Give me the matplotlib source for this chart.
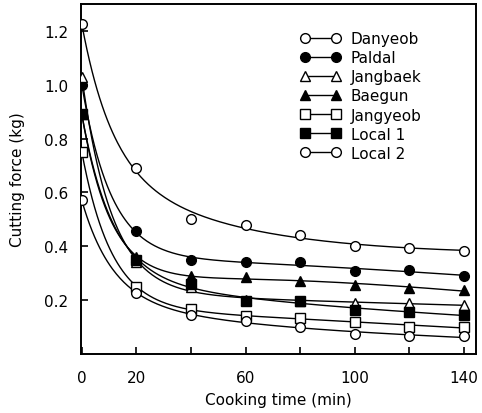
import numpy as np
import matplotlib
matplotlib.use("Agg")
import matplotlib.pyplot as plt

# cooking time (min) and cutting force (kg)
time_min = [0, 20, 40, 60, 80, 100, 120, 140]
danyeob = [1.225, 0.69, 0.50, 0.48, 0.44, 0.40, 0.395, 0.383]
paldal = [1.00, 0.455, 0.35, 0.34, 0.34, 0.307, 0.31, 0.29]
jangbaek = [1.03, 0.34, 0.25, 0.20, 0.195, 0.19, 0.19, 0.18]
baegun = [0.89, 0.36, 0.29, 0.285, 0.27, 0.256, 0.245, 0.238]
jangyeob = [0.75, 0.25, 0.165, 0.14, 0.133, 0.12, 0.10, 0.10]
local1 = [0.89, 0.35, 0.26, 0.197, 0.197, 0.163, 0.155, 0.145]
local2 = [0.57, 0.226, 0.145, 0.122, 0.10, 0.074, 0.066, 0.066]

names = ["Danyeob", "Paldal", "Jangbaek", "Baegun", "Jangyeob", "Local 1", "Local 2"]
series = [danyeob, paldal, jangbaek, baegun, jangyeob, local1, local2]
markers = ["o", "o", "^", "^", "s", "s", "o"]
filled = [False, True, False, True, False, True, False]

xticks = [0, 20, 40, 60, 80, 100, 120, 140]
xticklabels = ["0", "20", "", "60", "", "100", "", "140"]
yticks = [0.2, 0.4, 0.6, 0.8, 1.0, 1.2]


def smooth_fit(x, y):
    # least squares on a few decaying terms, gives a smooth curve like the paper
    x = np.asarray(x, float)
    y = np.asarray(y, float)
    basis = lambda t: np.column_stack([np.ones_like(t), np.exp(-t / 11.0), np.exp(-t / 50.0), t])
    w = np.ones_like(x)
    w[0] = 5.0
    coef, *_ = np.linalg.lstsq(basis(x) * w[:, None], y * w, rcond=None)
    xs = np.linspace(0, x.max(), 300)
    return xs, basis(xs) @ coef


plt.rcParams["font.family"] = ["DejaVu Sans"]
fig = plt.figure(figsize=(4.82, 4.14), dpi=100)
ax = fig.add_axes([0.168, 0.143, 0.82, 0.845])

for name, ys, m, f in zip(names, series, markers, filled):
    xs, fit = smooth_fit(time_min, ys)
    ax.plot(xs, fit, color="black", lw=1.0, zorder=2)
    ax.plot(time_min, ys, ls="none", marker=m, ms=7, mew=1.0,
            mec="black", mfc="black" if f else "white", zorder=3)
    # legend proxy: marker - line - marker
    ax.plot([], [], color="black", lw=1.0, marker=m, ms=7, mew=1.0,
            mec="black", mfc="black" if f else "white", label=name)

ax.set_xlim(-0.3, 144.5)
ax.set_ylim(0, 1.3)
ax.set_xticks(xticks)
ax.set_xticklabels(xticklabels)
ax.set_yticks(yticks)
ax.set_yticklabels(["0.2", "0.4", "0.6", "0.8", "1.0", "1.2"])
ax.tick_params(axis="x", direction="in", length=5, width=1.2, labelsize=11, pad=12)
ax.tick_params(axis="y", direction="in", length=5, width=1.2, labelsize=11, pad=9)
for s in ax.spines.values():
    s.set_linewidth(1.4)

ax.set_xlabel("Cooking time (min)", fontsize=11, labelpad=5)
ax.set_ylabel("Cutting force (kg)", fontsize=11, labelpad=14)

ax.legend(loc="upper left", bbox_to_anchor=(0.54, 0.94), frameon=False,
          fontsize=11, handlelength=2.6, labelspacing=0.27, handletextpad=0.7,
          numpoints=2, borderaxespad=0)

fig.savefig("out.png", dpi=100)
